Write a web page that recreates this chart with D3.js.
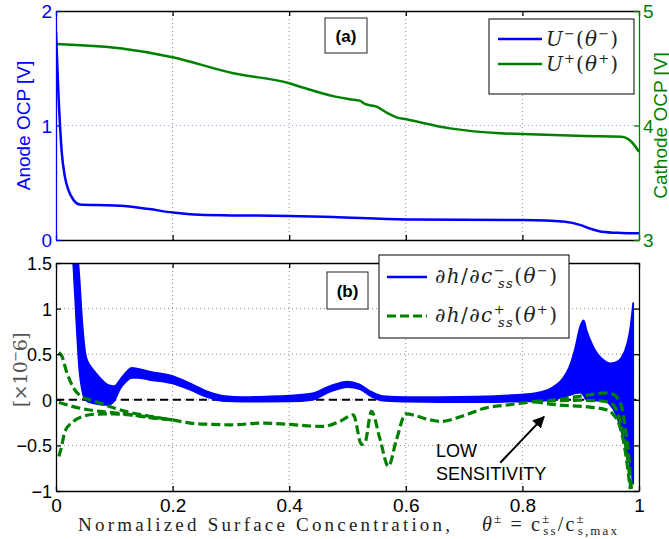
<!DOCTYPE html>
<html>
<head>
<meta charset="utf-8">
<script src="https://cdn.jsdelivr.net/npm/d3@7"></script>
<style>
  body { margin: 0; background: #fff; }
  svg { display: block; }
  .tick text { font-family: "Liberation Sans", Arial, sans-serif; }
</style>
</head>
<body>
<div id="chart"></div>
<script>
// ---- data ----
// (a) open circuit potentials
var anodeTheta = [0.0, 0.004, 0.0098, 0.015, 0.021, 0.03, 0.041, 0.07, 0.11, 0.16, 0.2, 0.247, 0.3, 0.4, 0.475, 0.6, 0.8, 0.873, 0.9, 0.913, 0.936, 0.97, 1.0];
var anodeOCP   = [1.82, 1.3, 0.77, 0.56, 0.44, 0.35, 0.31, 0.305, 0.30, 0.27, 0.24, 0.22, 0.215, 0.21, 0.20, 0.18, 0.175, 0.16, 0.13, 0.105, 0.073, 0.062, 0.058];

var cathodeTheta = [0.0, 0.11, 0.2, 0.304, 0.4, 0.4185, 0.479, 0.504, 0.521, 0.53, 0.55, 0.567, 0.584, 0.601, 0.676, 0.762, 0.8, 0.907, 0.97, 0.987, 1.0];
var cathodeOCP   = [4.712, 4.674, 4.596, 4.456, 4.369, 4.339, 4.252, 4.229, 4.217, 4.188, 4.164, 4.112, 4.071, 4.054, 3.975, 3.932, 3.926, 3.908, 3.902, 3.858, 3.77];

// (b) sensitivities [x1e-6]; the anode curves form a band (envelope max / min)
var bandTheta = [0.02, 0.03, 0.035, 0.04, 0.045, 0.05, 0.055, 0.06, 0.07, 0.08, 0.09, 0.1, 0.11, 0.12, 0.13, 0.14, 0.16, 0.2, 0.23, 0.26, 0.29, 0.32, 0.36, 0.4, 0.44, 0.47, 0.5, 0.52, 0.54, 0.56, 0.6, 0.66, 0.72, 0.78, 0.82, 0.85, 0.87, 0.88, 0.89, 0.9, 0.905, 0.91, 0.92, 0.94, 0.95, 0.96, 0.97, 0.98, 0.985, 0.99];
var bandHi = [2.6, 2.0, 1.75, 1.35, 0.85, 0.52, 0.41, 0.36, 0.28, 0.21, 0.16, 0.15, 0.22, 0.30, 0.35, 0.34, 0.31, 0.26, 0.18, 0.09, 0.04, 0.03, 0.035, 0.045, 0.07, 0.15, 0.2, 0.17, 0.09, 0.04, 0.03, 0.03, 0.035, 0.05, 0.07, 0.13, 0.24, 0.35, 0.55, 0.82, 0.87, 0.76, 0.6, 0.43, 0.40, 0.41, 0.46, 0.62, 0.78, 1.06];
var bandLo = [2.2, 1.45, 0.85, 0.33, 0.1, 0.0, -0.02, -0.03, -0.045, -0.055, -0.055, -0.01, 0.12, 0.2, 0.24, 0.24, 0.22, 0.18, 0.11, 0.03, -0.015, -0.02, -0.02, -0.018, 0.0, 0.09, 0.14, 0.12, 0.04, -0.01, -0.02, -0.025, -0.025, -0.02, -0.015, 0.0, 0.03, 0.05, 0.07, 0.08, 0.05, 0.0, -0.01, -0.01, -0.05, -0.15, -0.35, -0.6, -0.72, -0.92];

// cathode sensitivity curves: three starts, one shared middle, three ends
var greenLeftATheta = [0.005, 0.01, 0.018, 0.03, 0.044, 0.064, 0.093, 0.121, 0.161];
var greenLeftA      = [0.52, 0.48, 0.31, 0.13, 0.035, -0.01, -0.075, -0.13, -0.18];
var greenLeftBTheta = [0.005, 0.047, 0.087, 0.121, 0.161];
var greenLeftB      = [-0.03, -0.1, -0.135, -0.157, -0.195];
var greenLeftCTheta = [0.005, 0.01, 0.015, 0.03, 0.047, 0.07, 0.098, 0.127, 0.161];
var greenLeftC      = [-0.62, -0.5, -0.35, -0.237, -0.18, -0.157, -0.155, -0.165, -0.19];
var greenMidTheta = [0.2, 0.23, 0.27, 0.3, 0.356, 0.4, 0.458, 0.487, 0.51, 0.524, 0.53, 0.541, 0.556, 0.57, 0.584, 0.6, 0.641, 0.66, 0.696, 0.736, 0.776, 0.82];
var greenMid      = [-0.22, -0.255, -0.27, -0.274, -0.255, -0.27, -0.292, -0.237, -0.164, -0.49, -0.47, -0.128, -0.437, -0.73, -0.437, -0.155, -0.219, -0.237, -0.18, -0.091, -0.055, -0.02];
var greenRightATheta = [0.859, 0.9, 0.916, 0.944, 0.956, 0.965, 0.97, 0.976, 0.982, 0.987];
var greenRightA      = [0.0, 0.04, 0.055, 0.075, 0.06, 0.0, -0.073, -0.29, -0.58, -0.98];
var greenRightBTheta = [0.86, 0.9, 0.93, 0.95, 0.962, 0.972, 0.98, 0.986];
var greenRightB      = [-0.01, -0.005, -0.01, -0.03, -0.12, -0.35, -0.62, -0.98];
var greenRightCTheta = [0.859, 0.916, 0.944, 0.956, 0.967, 0.976, 0.985];
var greenRightC      = [-0.055, -0.08, -0.11, -0.16, -0.29, -0.547, -0.98];

var xTicks = [0, 0.2, 0.4, 0.6, 0.8, 1];
var anodeTicks = [0, 1, 2];
var cathodeTicks = [3, 4, 5];
var sensTicks = [-1, -0.5, 0, 0.5, 1, 1.5];

var BLUE = "#0000ff", GREEN = "#008000";
var W = 669, H = 539;
var left = 56, right = 639;
var SERIF = "'DejaVu Serif', 'Liberation Serif', serif";
var SANS = "'Liberation Sans', Arial, sans-serif";

var svg = d3.select("#chart").append("svg")
    .attr("width", W)
    .attr("height", H);

var x = d3.scaleLinear().domain([0, 1]).range([left, right]);
var yL = d3.scaleLinear().domain([0, 2]).range([240, 11]);
var yR = d3.scaleLinear().domain([3, 5]).range([240, 11]);
var yB = d3.scaleLinear().domain([-1, 1.5]).range([491, 263]);

var fmt = function(d) { return String(d).replace("-", "\u2212"); };
var zip = function(t, v) { return t.map(function(d, i) { return [d, v[i]]; }); };

var defs = svg.append("defs");
defs.append("clipPath").attr("id", "clipA")
    .append("rect").attr("x", left).attr("y", 11).attr("width", right - left).attr("height", 229);
defs.append("clipPath").attr("id", "clipB")
    .append("rect").attr("x", left).attr("y", 263).attr("width", right - left).attr("height", 228);
defs.append("marker").attr("id", "arrow")
    .attr("viewBox", "0 0 10 10").attr("refX", 9).attr("refY", 5)
    .attr("markerWidth", 6).attr("markerHeight", 6).attr("orient", "auto")
    .append("path").attr("d", "M0,0 L10,5 L0,10 z").attr("fill", "#000");

// ================= panel (a) =================
var pa = svg.append("g");

// grid
pa.selectAll(".vgrid").data(xTicks.slice(1, -1)).enter().append("line")
    .attr("x1", x).attr("x2", x).attr("y1", 11).attr("y2", 240)
    .attr("stroke", "#8c8c8c").attr("stroke-width", 1).attr("stroke-dasharray", "1,3");
pa.append("line")
    .attr("x1", left).attr("x2", right).attr("y1", yL(1)).attr("y2", yL(1))
    .attr("stroke", "#a8a8ff").attr("stroke-width", 1).attr("stroke-dasharray", "1,3");

var lineA = d3.line().x(function(d) { return x(d[0]); }).y(function(d) { return yL(d[1]); })
    .curve(d3.curveMonotoneX);
var lineC = d3.line().x(function(d) { return x(d[0]); }).y(function(d) { return yR(d[1]); })
    .curve(d3.curveMonotoneX);

pa.append("path").datum(zip(cathodeTheta, cathodeOCP))
    .attr("clip-path", "url(#clipA)")
    .attr("d", lineC)
    .attr("fill", "none").attr("stroke", GREEN).attr("stroke-width", 2.5);
pa.append("path").datum(zip(anodeTheta, anodeOCP))
    .attr("clip-path", "url(#clipA)")
    .attr("d", lineA)
    .attr("fill", "none").attr("stroke", BLUE).attr("stroke-width", 2.5);

// axes
var axA_bottom = pa.append("g").attr("transform", "translate(0,240)")
    .call(d3.axisBottom(x).tickValues(xTicks).tickFormat("").tickSizeInner(-5).tickSizeOuter(0));
var axA_top = pa.append("g").attr("transform", "translate(0,11)")
    .call(d3.axisTop(x).tickValues(xTicks).tickFormat("").tickSizeInner(-5).tickSizeOuter(0));
[axA_bottom, axA_top].forEach(function(g) {
    g.selectAll("path, line").attr("stroke", "#000").attr("stroke-width", 1.3);
});
var axL = pa.append("g").attr("transform", "translate(" + left + ",0)")
    .call(d3.axisLeft(yL).tickValues(anodeTicks).tickFormat(fmt).tickSizeInner(-5).tickSizeOuter(0).tickPadding(4));
axL.selectAll("path, line").attr("stroke", BLUE).attr("stroke-width", 1.3);
axL.selectAll("text").attr("fill", BLUE).style("font-size", "19px").attr("dy", "0.36em");
var axR = pa.append("g").attr("transform", "translate(" + right + ",0)")
    .call(d3.axisRight(yR).tickValues(cathodeTicks).tickFormat(fmt).tickSizeInner(-5).tickSizeOuter(0).tickPadding(4));
axR.selectAll("path, line").attr("stroke", GREEN).attr("stroke-width", 1.3);
axR.selectAll("text").attr("fill", GREEN).style("font-size", "19px").attr("dy", "0.36em");

pa.append("text")
    .attr("transform", "translate(30," + yL(1) + ") rotate(-90)")
    .attr("text-anchor", "middle")
    .style("font-family", SANS).style("font-size", "19px")
    .attr("fill", BLUE).text("Anode OCP [V]");
pa.append("text")
    .attr("transform", "translate(667," + yR(4) + ") rotate(-90)")
    .attr("text-anchor", "middle")
    .style("font-family", SANS).style("font-size", "19px")
    .attr("fill", GREEN).text("Cathode OCP [V]");

// (a) tag
pa.append("rect").attr("x", 325).attr("y", 18).attr("width", 42).attr("height", 35)
    .attr("fill", "#fff").attr("stroke", "#222").attr("stroke-width", 1);
pa.append("text").attr("x", 346).attr("y", 42).attr("text-anchor", "middle")
    .style("font-family", SANS).style("font-size", "17px").style("font-weight", "bold")
    .text("(a)");

// legend (a)
var legA = pa.append("g");
legA.append("rect").attr("x", 489).attr("y", 19).attr("width", 145).attr("height", 75)
    .attr("fill", "#fff").attr("stroke", "#000").attr("stroke-width", 1);
var legAItems = [{c: BLUE, s: "\u2212", y: 39}, {c: GREEN, s: "+", y: 64}];
legAItems.forEach(function(it) {
    legA.append("line").attr("x1", 498).attr("x2", 542).attr("y1", it.y).attr("y2", it.y)
        .attr("stroke", it.c).attr("stroke-width", 2.5);
    var t = legA.append("text").attr("x", 546).attr("y", it.y + 7)
        .attr("textLength", 72).attr("lengthAdjust", "spacing")
        .style("font-family", SERIF).style("font-size", "20px").attr("fill", "#222");
    t.append("tspan").style("font-style", "italic").text("U");
    t.append("tspan").attr("dy", -8).style("font-size", "13px").text(it.s);
    t.append("tspan").attr("dy", 8).text("(");
    t.append("tspan").style("font-style", "italic").text("\u03b8");
    t.append("tspan").attr("dy", -8).style("font-size", "13px").text(it.s);
    t.append("tspan").attr("dy", 8).text(")");
});

// ================= panel (b) =================
var pb = svg.append("g");

pb.selectAll(".vgrid").data(xTicks.slice(1, -1)).enter().append("line")
    .attr("x1", x).attr("x2", x).attr("y1", 263).attr("y2", 491)
    .attr("stroke", "#8c8c8c").attr("stroke-width", 1).attr("stroke-dasharray", "1,3");
pb.selectAll(".hgrid").data(sensTicks.slice(1, -1)).enter().append("line")
    .attr("x1", left).attr("x2", right).attr("y1", yB).attr("y2", yB)
    .attr("stroke", "#8c8c8c").attr("stroke-width", 1).attr("stroke-dasharray", "1,3");

var plot = pb.append("g").attr("clip-path", "url(#clipB)");

// zero reference
plot.append("line").attr("x1", left).attr("x2", right).attr("y1", yB(0)).attr("y2", yB(0))
    .attr("stroke", "#000").attr("stroke-width", 2).attr("stroke-dasharray", "8,5");

// anode band between the envelope curves
var band = d3.area()
    .x(function(d) { return x(d[0]); })
    .y0(function(d) { return yB(d[2]); })
    .y1(function(d) { return yB(d[1]); })
    .curve(d3.curveMonotoneX);
var bandRows = bandTheta.map(function(t, i) { return [t, bandHi[i], bandLo[i]]; });
plot.append("path").datum(bandRows)
    .attr("d", band)
    .attr("fill", BLUE)
    .attr("stroke", BLUE).attr("stroke-width", 1.8).attr("stroke-linejoin", "round");

// cathode curves
var lineB = d3.line().x(function(d) { return x(d[0]); }).y(function(d) { return yB(d[1]); })
    .curve(d3.curveMonotoneX);
var midPts = zip(greenMidTheta, greenMid);
var greenPieces = [
    zip(greenLeftATheta, greenLeftA).concat([midPts[0]]),
    zip(greenLeftBTheta, greenLeftB).concat([midPts[0]]),
    zip(greenLeftCTheta, greenLeftC).concat([midPts[0]]),
    midPts,
    [midPts[midPts.length - 1]].concat(zip(greenRightATheta, greenRightA)),
    [midPts[midPts.length - 1]].concat(zip(greenRightBTheta, greenRightB)),
    [midPts[midPts.length - 1]].concat(zip(greenRightCTheta, greenRightC))
];
plot.selectAll(".green").data(greenPieces).enter().append("path")
    .attr("d", lineB)
    .attr("fill", "none").attr("stroke", GREEN).attr("stroke-width", 3.2)
    .attr("stroke-dasharray", "9,4");

// axes
var axB_bottom = pb.append("g").attr("transform", "translate(0,491)")
    .call(d3.axisBottom(x).tickValues(xTicks).tickFormat(fmt).tickSizeInner(-5).tickSizeOuter(0).tickPadding(8));
axB_bottom.selectAll("text").style("font-size", "19px").attr("fill", "#000");
var axB_top = pb.append("g").attr("transform", "translate(0,263)")
    .call(d3.axisTop(x).tickValues(xTicks).tickFormat("").tickSizeInner(-5).tickSizeOuter(0));
var axB_left = pb.append("g").attr("transform", "translate(" + left + ",0)")
    .call(d3.axisLeft(yB).tickValues(sensTicks).tickFormat(fmt).tickSizeInner(-5).tickSizeOuter(0).tickPadding(4));
axB_left.selectAll("text").style("font-size", "18px").attr("fill", "#000").attr("dy", "0.36em");
var axB_right = pb.append("g").attr("transform", "translate(" + right + ",0)")
    .call(d3.axisRight(yB).tickValues(sensTicks).tickFormat("").tickSizeInner(-5).tickSizeOuter(0));
[axB_bottom, axB_top, axB_left, axB_right].forEach(function(g) {
    g.selectAll("path, line").attr("stroke", "#000").attr("stroke-width", 1.3);
});

// y label
var yl = pb.append("text")
    .attr("transform", "translate(27," + yB(0.33) + ") rotate(-90)")
    .attr("text-anchor", "middle")
    .attr("textLength", 75).attr("lengthAdjust", "spacing")
    .style("font-family", SERIF).style("font-size", "19px")
    .attr("fill", "#555");
yl.append("tspan").text("[\u00d710");
yl.append("tspan").attr("dy", -7).style("font-size", "13px").text("\u2212");
yl.append("tspan").attr("dy", 7).text("6]");

// annotation
var ann = pb.append("g")
    .style("font-family", SANS).style("font-size", "18px");
ann.append("text").attr("x", x(0.652)).attr("y", yB(-0.624)).text("LOW");
ann.append("text").attr("x", x(0.652)).attr("y", yB(-0.875)).text("SENSITIVITY");
ann.append("line")
    .attr("x1", x(0.762)).attr("y1", yB(-0.69))
    .attr("x2", x(0.837)).attr("y2", yB(-0.186))
    .attr("stroke", "#000").attr("stroke-width", 2).attr("marker-end", "url(#arrow)");

// (b) tag
pb.append("rect").attr("x", 327).attr("y", 272).attr("width", 41).attr("height", 37)
    .attr("fill", "#fff").attr("stroke", "#222").attr("stroke-width", 1);
pb.append("text").attr("x", 347.5).attr("y", 297).attr("text-anchor", "middle")
    .style("font-family", SANS).style("font-size", "17px").style("font-weight", "bold")
    .text("(b)");

// legend (b)
var legB = pb.append("g");
legB.append("rect").attr("x", 379).attr("y", 255).attr("width", 190).attr("height", 83)
    .attr("fill", "#fff").attr("stroke", "#000").attr("stroke-width", 1);
var legBItems = [{c: BLUE, s: "\u2212", y: 277, dash: null}, {c: GREEN, s: "+", y: 316, dash: "9,4"}];
legBItems.forEach(function(it) {
    legB.append("line").attr("x1", 387).attr("x2", 427).attr("y1", it.y).attr("y2", it.y)
        .attr("stroke", it.c).attr("stroke-width", it.dash ? 3.2 : 2.5)
        .attr("stroke-dasharray", it.dash);
    var t = legB.append("text").attr("x", 435).attr("y", it.y + 6)
        .attr("textLength", 122).attr("lengthAdjust", "spacing")
        .style("font-family", SERIF).style("font-size", "20px").attr("fill", "#222");
    t.append("tspan").text("\u2202");
    t.append("tspan").style("font-style", "italic").text("h");
    t.append("tspan").text("/\u2202");
    t.append("tspan").style("font-style", "italic").text("c");
    t.append("tspan").attr("dy", -8).style("font-size", "13px").text(it.s);
    t.append("tspan").attr("dx", -8).attr("dy", 13).style("font-size", "13px").style("font-style", "italic").text("ss");
    t.append("tspan").attr("dy", -5).text("(");
    t.append("tspan").style("font-style", "italic").text("\u03b8");
    t.append("tspan").attr("dy", -8).style("font-size", "13px").text(it.s);
    t.append("tspan").attr("dy", 8).text(")");
});

// x label
svg.append("text").attr("x", 78).attr("y", 531)
    .attr("textLength", 372).attr("lengthAdjust", "spacing")
    .style("font-family", "'Liberation Serif', serif").style("font-size", "19px")
    .attr("fill", "#222")
    .text("Normalized Surface Concentration,");
var xm = svg.append("text").attr("x", 482).attr("y", 531)
    .attr("textLength", 135).attr("lengthAdjust", "spacing")
    .style("font-family", "'Liberation Serif', serif").style("font-size", "20px")
    .attr("fill", "#222");
xm.append("tspan").style("font-style", "italic").text("\u03b8");
xm.append("tspan").attr("dy", -8).style("font-size", "13px").text("\u00b1");
xm.append("tspan").attr("dy", 8).text(" = c");
xm.append("tspan").attr("dy", -8).style("font-size", "13px").text("\u00b1");
xm.append("tspan").attr("dx", -8).attr("dy", 12).style("font-size", "13px").text("ss");
xm.append("tspan").attr("dy", -4).text("/c");
xm.append("tspan").attr("dy", -8).style("font-size", "13px").text("\u00b1");
xm.append("tspan").attr("dx", -8).attr("dy", 12).style("font-size", "13px").text("s,max");
</script>
</body>
</html>
